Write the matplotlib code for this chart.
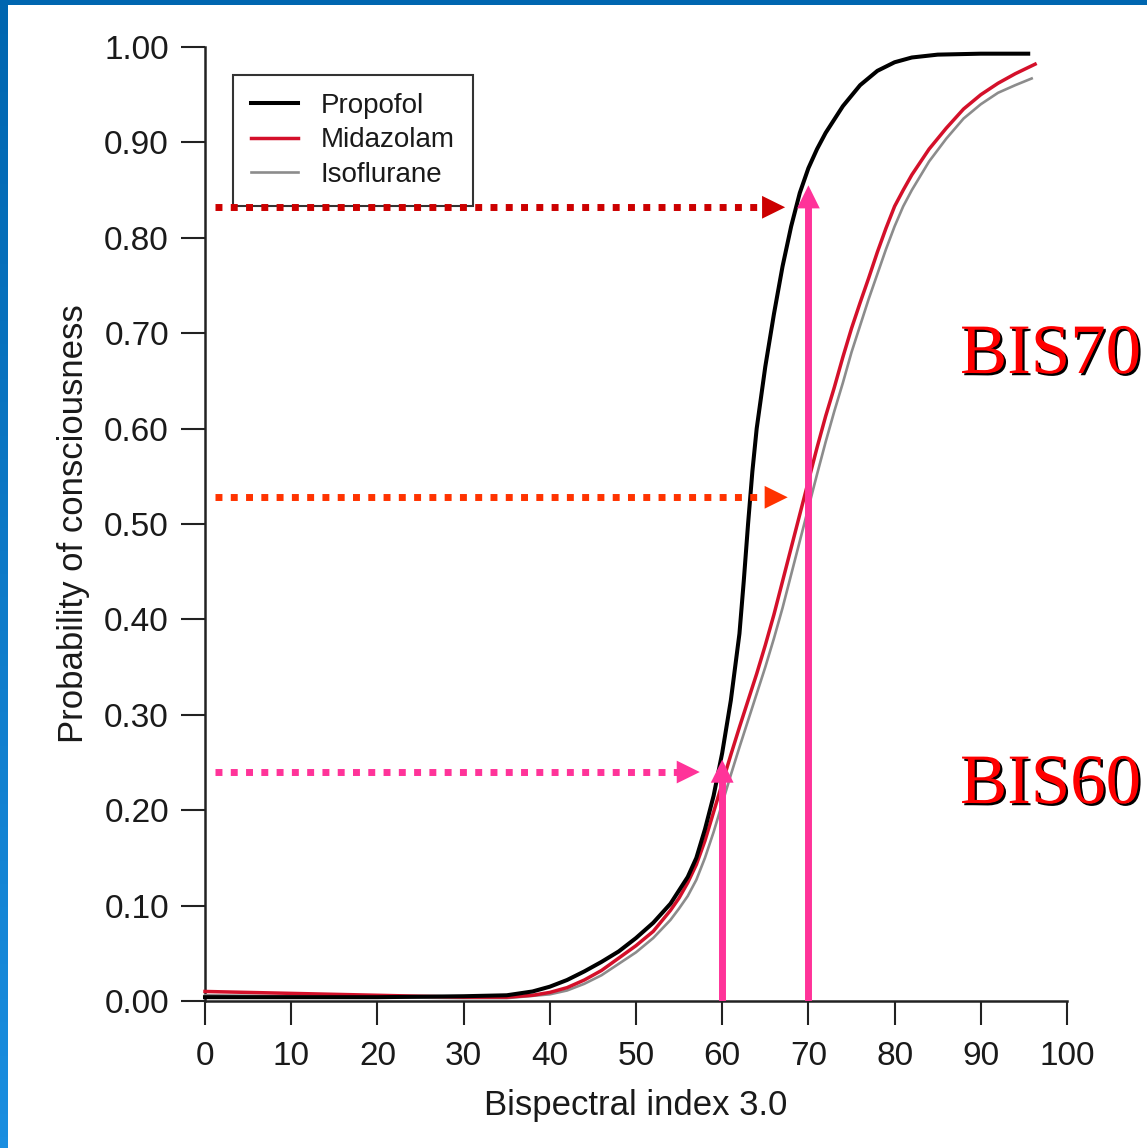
import numpy as np
import matplotlib
matplotlib.use("Agg")
import matplotlib.pyplot as plt
import matplotlib.patheffects as pe

plt.rcParams['font.family'] = ['Liberation Sans', 'DejaVu Sans']

# values
propofol_x = [0, 10, 20, 25, 30, 35, 38, 40, 42, 44, 46, 48, 50, 52, 54, 56, 57, 58, 59,
              60, 61, 62, 62.5, 63, 63.5, 64, 65, 66, 67, 68, 69, 70, 71, 72, 74, 76, 78,
              80, 82, 85, 90, 95.5]
propofol_y = [0.004, 0.004, 0.004, 0.0045, 0.005, 0.006, 0.010, 0.015, 0.022, 0.031, 0.041,
              0.052, 0.066, 0.082, 0.102, 0.13, 0.15, 0.18, 0.215, 0.26, 0.315, 0.385, 0.44,
              0.50, 0.555, 0.60, 0.665, 0.72, 0.77, 0.812, 0.847, 0.873, 0.893, 0.91, 0.938,
              0.96, 0.975, 0.984, 0.989, 0.992, 0.993, 0.993]

midazolam_x = [0, 5, 10, 15, 20, 25, 30, 35, 38, 40, 42, 44, 46, 48, 50, 52, 54, 55, 56, 57,
               58, 59, 60, 61, 62, 63, 64, 65, 66, 67, 68, 69, 70, 71, 72, 73, 74, 75, 76,
               77, 78, 79, 80, 81, 82, 84, 86, 88, 90, 92, 94, 96.3]
midazolam_y = [0.010, 0.009, 0.008, 0.007, 0.006, 0.005, 0.004, 0.004, 0.006, 0.009, 0.014,
               0.022, 0.032, 0.045, 0.058, 0.073, 0.095, 0.108, 0.124, 0.143, 0.168, 0.198,
               0.228, 0.258, 0.287, 0.315, 0.343, 0.373, 0.405, 0.44, 0.475, 0.51, 0.545,
               0.58, 0.613, 0.643, 0.675, 0.705, 0.732, 0.758, 0.785, 0.81, 0.833, 0.85,
               0.866, 0.893, 0.915, 0.935, 0.95, 0.962, 0.972, 0.982]

isoflurane_x = [0, 10, 20, 30, 35, 40, 42, 44, 46, 48, 50, 52, 54, 55, 56, 57, 58, 59, 60,
                61, 62, 63, 64, 65, 66, 67, 68, 69, 70, 71, 72, 73, 74, 75, 76, 77, 78, 79,
                80, 81, 82, 84, 86, 88, 90, 92, 94, 95.9]
isoflurane_y = [0.006, 0.005, 0.004, 0.003, 0.003, 0.007, 0.011, 0.018, 0.027, 0.039, 0.051,
                0.066, 0.085, 0.097, 0.11, 0.127, 0.15, 0.177, 0.207, 0.237, 0.266, 0.294,
                0.322, 0.35, 0.38, 0.412, 0.447, 0.482, 0.517, 0.552, 0.586, 0.618, 0.648,
                0.68, 0.708, 0.736, 0.762, 0.788, 0.812, 0.833, 0.85, 0.88, 0.904, 0.925,
                0.94, 0.952, 0.96, 0.967]

# dotted horizontal arrows: y level, start x, tip x, colour
h_arrow_y = [0.832, 0.528, 0.240]
h_arrow_x0 = [1.2, 1.2, 1.2]
h_arrow_tip = [67.3, 67.6, 57.4]
h_arrow_col = ['#cc0000', '#ff3300', '#ff3399']

# solid vertical arrows at BIS 60 and 70
v_arrow_x = [60, 70]
v_arrow_tip = [0.253, 0.855]

xticks = list(range(0, 101, 10))
yticks = [i / 10 for i in range(11)]

W, H = 1147, 1148
fig = plt.figure(figsize=(W / 100, H / 100), dpi=100)
fig.patch.set_facecolor('white')

# blue frame of the slide
top = fig.add_axes([0, 1 - 5 / H, 1, 5 / H])
top.set_axis_off()
top.add_patch(plt.Rectangle((0, 0), 1, 1, transform=top.transAxes, color='#0066b0'))
left = fig.add_axes([0, 0, 8 / W, 1])
grad = np.linspace(0, 1, 100).reshape(-1, 1)
left.imshow(grad, aspect='auto', cmap=matplotlib.colors.LinearSegmentedColormap.from_list(
    'b', ['#1a8ee0', '#0066b0']), extent=[0, 1, 0, 1], origin='lower')
left.set_axis_off()

ax = fig.add_axes([205 / W, 1 - 1001 / H, 862 / W, 954 / H])
ax.set_xlim(0, 100)
ax.set_ylim(0, 1)

ax.plot(isoflurane_x, isoflurane_y, color='#8c8c8c', lw=1.9, label='Isoflurane',
        clip_on=False, zorder=3)
ax.plot(midazolam_x, midazolam_y, color='#d4102a', lw=2.5, label='Midazolam',
        clip_on=False, zorder=4)
ax.plot(propofol_x, propofol_y, color='black', lw=2.9, label='Propofol',
        clip_on=False, zorder=5)

hl = 23 / 862 * 100      # head length in x data units (23 px)
vl = 23 / 954            # head length in y data units
head = dict(arrowstyle='-|>,head_length=0.83,head_width=0.41', mutation_scale=20,
            lw=0, shrinkA=0, shrinkB=0)

for y, x0, xt, c in zip(h_arrow_y, h_arrow_x0, h_arrow_tip, h_arrow_col):
    ax.plot([x0, xt - hl], [y, y], color=c, lw=5, linestyle=(0, (1, 1.2)),
            dash_capstyle='butt', zorder=6)
    ax.annotate('', xy=(xt, y), xytext=(xt - hl, y),
                arrowprops=dict(head, color=c), zorder=6)

for x, yt in zip(v_arrow_x, v_arrow_tip):
    ax.plot([x, x], [0, yt - vl + 0.002], color='#ff3399', lw=5, solid_capstyle='butt',
            zorder=7)
    ax.annotate('', xy=(x, yt), xytext=(x, yt - vl),
                arrowprops=dict(head, color='#ff3399'), zorder=7)

ax.set_xticks(xticks)
ax.set_yticks(yticks)
ax.set_yticklabels([f'{v:.2f}' for v in yticks])
ax.tick_params(axis='both', direction='out', length=17, width=1.5, labelsize=24,
               labelcolor='#1a1a1a', color='#222222')
ax.tick_params(axis='y', pad=9)
ax.tick_params(axis='x', pad=12)
for s in ['top', 'right']:
    ax.spines[s].set_visible(False)
for s in ['left', 'bottom']:
    ax.spines[s].set_linewidth(1.8)
    ax.spines[s].set_color('#222222')

ax.set_xlabel('Bispectral index 3.0', fontsize=25, color='#1a1a1a', labelpad=12)
ax.set_ylabel('Probability of consciousness', fontsize=25, color='#1a1a1a', labelpad=10)

handles, labels = ax.get_legend_handles_labels()
order = [2, 1, 0]
leg = ax.legend([handles[i] for i in order], [labels[i] for i in order],
                loc='upper left', bbox_to_anchor=(0.0325, 0.9706), borderaxespad=0,
                fontsize=20, frameon=True, fancybox=False, framealpha=1,
                edgecolor='#333333', handlelength=1.7, handletextpad=0.8,
                labelspacing=0.3, borderpad=0.65)
leg.get_frame().set_linewidth(1.5)
for t in leg.get_texts():
    t.set_color('#1a1a1a')

shadow = [pe.SimplePatchShadow(offset=(1.6, -1.6), shadow_rgbFace='black', alpha=1),
          pe.Normal()]
for label, yb in [('BIS70', 1 - 373 / H), ('BIS60', 1 - 803 / H)]:
    fig.text(960 / W, yb, label, fontsize=51, family='Liberation Serif', color='red',
             va='baseline', ha='left', path_effects=shadow)

fig.savefig('out.png', dpi=100)
